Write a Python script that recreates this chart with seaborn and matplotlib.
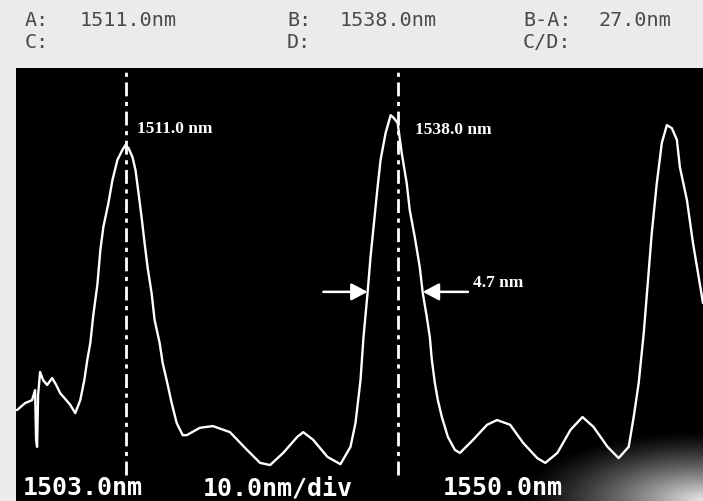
import numpy as np
import pandas as pd
import matplotlib
matplotlib.use("Agg")
import matplotlib.pyplot as plt
import seaborn as sns

# ---- data ----
wavelength_nm = [1500.1, 1500.9, 1501.6, 1501.9, 1502.0, 1502.1, 1502.2, 1502.4, 1502.7, 1503.1,
                 1503.6, 1504.0, 1504.4, 1505.0, 1505.4, 1505.9, 1506.4, 1506.8, 1507.1, 1507.4,
                 1507.7, 1508.1, 1508.4, 1508.7, 1509.2, 1509.6, 1510.1, 1510.6, 1510.9, 1511.2,
                 1511.6, 1511.9, 1512.2, 1512.5, 1512.8, 1513.1, 1513.5, 1513.8, 1514.3, 1514.6,
                 1515.0, 1515.5, 1516.0, 1516.6, 1517.0, 1518.3, 1519.6, 1521.3, 1523.0, 1524.3,
                 1525.3, 1526.6, 1528.0, 1528.6, 1529.6, 1531.0, 1532.3, 1533.3, 1533.8, 1534.3,
                 1534.6, 1535.0, 1535.3, 1535.6, 1536.0, 1536.3, 1536.8, 1537.3, 1537.6, 1538.0,
                 1538.4, 1538.9, 1539.2, 1539.7, 1540.2, 1540.5, 1540.9, 1541.2, 1541.4, 1541.7,
                 1542.0, 1542.4, 1543.0, 1543.7, 1544.2, 1545.5, 1546.9, 1547.9, 1549.2, 1550.5,
                 1551.9, 1552.7, 1553.9, 1555.2, 1556.4, 1557.5, 1558.9, 1560.0, 1561.0, 1561.5,
                 1562.0, 1562.5, 1562.9, 1563.3, 1563.8, 1564.3, 1564.8, 1565.3, 1565.8, 1566.1,
                 1566.8, 1567.4, 1567.9, 1568.4]
level_au = [21.0, 22.6, 23.3, 25.6, 14.1, 12.5, 24.5, 29.8, 27.9, 26.8,
            28.4, 26.8, 24.9, 23.3, 22.2, 20.3, 23.3, 27.9, 32.6, 36.5,
            43.0, 49.9, 58.0, 63.3, 68.8, 74.1, 78.8, 81.1, 82.2, 81.5,
            79.4, 76.4, 71.1, 65.6, 59.6, 54.0, 48.0, 41.8, 36.5, 31.9,
            27.9, 22.6, 18.0, 15.2, 15.2, 16.9, 17.3, 15.9, 11.8, 8.8,
            8.3, 11.1, 14.8, 15.9, 14.1, 10.2, 8.5, 12.5, 18.0, 27.9,
            37.9, 48.0, 56.4, 63.3, 72.5, 78.8, 85.0, 89.1, 88.5, 87.3,
            80.4, 73.4, 67.2, 61.0, 54.0, 48.0, 42.5, 37.9, 32.6, 27.3,
            23.3, 19.4, 14.8, 11.8, 11.1, 14.1, 17.6, 18.7, 17.6, 13.4,
            9.9, 8.8, 11.1, 16.4, 19.4, 17.1, 12.5, 9.9, 12.5, 19.4,
            27.3, 38.8, 50.3, 61.9, 73.4, 82.7, 86.8, 86.1, 83.4, 77.1,
            69.5, 59.6, 52.7, 45.7]

marker_a_nm = 1511.0
marker_b_nm = 1538.0
fwhm_left_nm = 1535.0
fwhm_right_nm = 1540.5
fwhm_level = 48.3

header_row1 = [("A:", "1511.0nm"), ("B:", "1538.0nm"), ("B-A:", "27.0nm")]
header_row2 = ["C:", "D:", "C/D:"]
footer_labels = ["1503.0nm", "10.0nm/div", "1550.0nm"]
peak_labels = ["1511.0 nm", "1538.0 nm"]
width_label = "4.7 nm"

df = pd.DataFrame({"wavelength": wavelength_nm, "level": level_au})

# ---- figure ----
W, H = 703, 501
sns.set_style("dark", {"axes.facecolor": "black", "figure.facecolor": "#ebebeb"})
fig = plt.figure(figsize=(W / 100, H / 100), dpi=100)
fig.patch.set_facecolor("#ebebeb")

ax_left, ax_top = 16, 68
ax = fig.add_axes([ax_left / W, 0, (W - ax_left) / W, (H - ax_top) / H])
ax.set_facecolor("black")

# noise speckle glow in lower right corner (smooth gradient)
gy, gx = np.mgrid[0:1:120j, 0:1:240j]
r = np.sqrt(((1 - gx) / 0.27) ** 2 + ((gy) / 0.16) ** 2)
alpha = np.clip(1 - r, 0, 1) ** 1.3 * 0.9
img = np.zeros(gx.shape + (4,))
img[..., :3] = 1.0
img[..., 3] = alpha
ax.imshow(img, extent=(0, 1, 0, 1), transform=ax.transAxes, origin="lower",
          aspect="auto", zorder=1, interpolation="bilinear")

sns.lineplot(data=df, x="wavelength", y="level", ax=ax, color="white",
             sort=False, estimator=None, linewidth=1.7, zorder=3)

ax.set_xlim(1500.0, 1568.4)
ax.set_ylim(0, 100)
ax.set_xticks([])
ax.set_yticks([])
ax.set_xlabel("")
ax.set_ylabel("")
for s in ax.spines.values():
    s.set_visible(False)
ax.grid(False)

# markers A and B
for m in (marker_a_nm, marker_b_nm):
    ax.axvline(m, ymin=0.06, ymax=1.0, color="white", lw=2.0,
               ls=(0, (5, 2, 1.5, 2)), zorder=2)

# peak labels (Times bold)
serif = ["Liberation Serif", "DejaVu Serif"]
ax.text(marker_a_nm + 1.05, 85.9, peak_labels[0], color="white", fontsize=12.5,
        fontweight="bold", family=serif, va="center", ha="left", zorder=5)
ax.text(marker_b_nm + 1.7, 85.7, peak_labels[1], color="white", fontsize=12.5,
        fontweight="bold", family=serif, va="center", ha="left", zorder=5)
ax.text(1545.5, 50.3, width_label, color="white", fontsize=12.5,
        fontweight="bold", family=serif, va="center", ha="left", zorder=5)

# FWHM arrows
aprops = dict(arrowstyle="-|>,head_length=0.75,head_width=0.4", color="white",
              lw=1.8, mutation_scale=13, shrinkA=0, shrinkB=0)
ax.annotate("", xy=(fwhm_left_nm, fwhm_level), xytext=(1530.6, fwhm_level),
            arrowprops=aprops, zorder=5)
ax.annotate("", xy=(fwhm_right_nm, fwhm_level), xytext=(1545.0, fwhm_level),
            arrowprops=aprops, zorder=5)

# header texts (pixel-font look: monospace grey)
mono = ["DejaVu Sans Mono"]
hdr_color = "#4a4a4a"
col_label_x = [25, 287, 523]
col_value_x = [80, 340, 598]
for (lab, val), lx, vx in zip(header_row1, col_label_x, col_value_x):
    fig.text(lx / W, 1 - 20 / H, lab, color=hdr_color, fontsize=14.5,
             family=mono, va="center", ha="left")
    fig.text(vx / W, 1 - 20 / H, val, color=hdr_color, fontsize=14.5,
             family=mono, va="center", ha="left")
for lab, lx in zip(header_row2, col_label_x):
    fig.text(lx / W, 1 - 43 / H, lab, color=hdr_color, fontsize=14.5,
             family=mono, va="center", ha="left")

# footer texts (white bold monospace inside trace window)
foot_x = [23, 203, 443]
for lab, fx in zip(footer_labels, foot_x):
    fig.text(fx / W, 1 - 500 / H, lab, color="white", fontsize=18,
             family=mono, fontweight="bold", va="bottom", ha="left", zorder=6)

fig.savefig("out.png", dpi=100, facecolor=fig.get_facecolor())
